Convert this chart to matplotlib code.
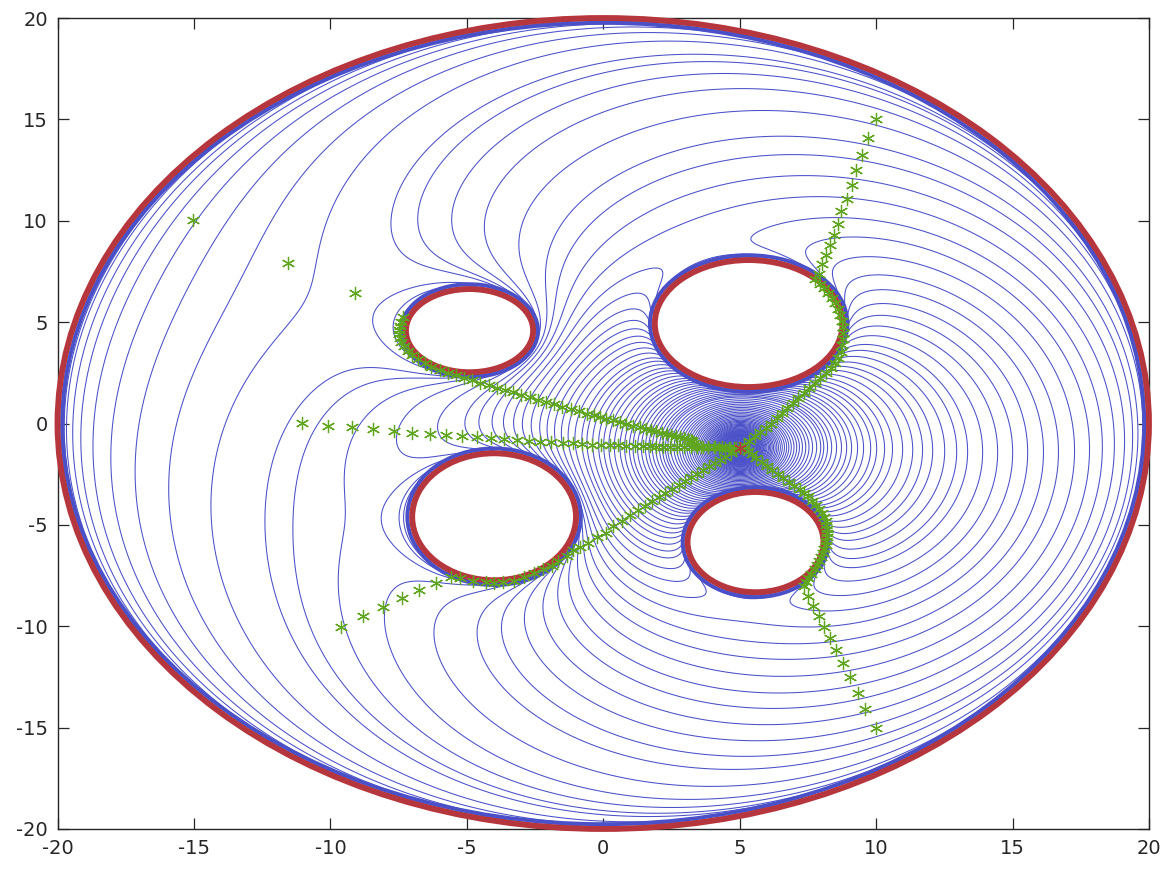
import numpy as np
import matplotlib
matplotlib.use("Agg")
import matplotlib.pyplot as plt
from matplotlib.patches import Ellipse

plt.rcParams["axes.unicode_minus"] = False

goal = (5.0, -1.2)
outer_radius = 20.0
# obstacles
obs_x = [-4.9, 5.33, -4.0, 5.58]
obs_y = [4.58, 4.93, -4.6, -5.85]
obs_rx = [2.33, 3.44, 3.0, 2.49]
obs_ry = [2.05, 3.13, 3.13, 2.47]

kappa = 7

# where the contours cross the row through the goal, right of it
ring_x = [5.12, 5.15, 5.18, 5.21, 5.24, 5.27, 5.3, 5.33, 5.36, 5.39, 5.42, 5.45, 5.48, 5.51, 5.54, 5.57,
          5.6, 5.62, 5.65, 5.67, 5.7, 5.73, 5.76, 5.79, 5.82, 5.85, 5.88, 5.92, 5.96, 6.0, 6.05, 6.09, 6.14, 6.19,
          6.24, 6.3, 6.36, 6.42, 6.49, 6.56, 6.64, 6.72, 6.8, 6.89, 6.99, 7.09, 7.19, 7.3, 7.42, 7.54, 7.67, 7.82,
          7.97, 8.08, 8.22, 8.37, 8.55, 8.73, 8.92, 9.1, 9.32, 9.54, 9.8, 10.02, 10.31, 10.6, 10.97, 11.34, 11.7,
          12.07, 12.51, 12.95, 13.35, 13.9, 14.45, 15.0, 15.55, 16.13, 16.68, 17.27, 17.82, 18.29, 18.73, 19.1,
          19.39, 19.58, 19.76]
# same row, left of the goal, the outer contours
ring_left_x = [-11.96, -14.12, -15.81, -17.12, -18.04, -18.7, -19.14, -19.43, -19.65, -19.73, -19.8, -19.85, -19.9]
# column x = 0, above the obstacles
ring_top_y = [15.36, 16.45, 17.29]

path_a_x = [10.0, 9.72, 9.5, 9.28, 9.1, 8.92, 8.73, 8.59, 8.44, 8.3, 8.15, 8.0, 7.9, 7.75, 7.95, 8.1, 8.25, 8.38, 8.5,
            8.6, 8.68, 8.74, 8.78, 8.8, 8.8, 8.76, 8.7, 8.6, 8.48, 8.33, 8.15, 7.95, 7.75, 7.55, 7.35, 7.15, 6.95,
            6.75, 6.55, 6.35, 6.15, 5.95, 5.75, 5.55, 5.35, 5.15]
path_a_y = [15.0, 14.08, 13.24, 12.5, 11.76, 11.07, 10.48, 9.84, 9.3, 8.8, 8.31, 7.87, 7.37, 7.15, 6.9, 6.7, 6.45, 6.2,
            5.95, 5.65, 5.35, 5.05, 4.75, 4.45, 4.15, 3.85, 3.55, 3.25, 3.0, 2.75, 2.5, 2.25, 2.0, 1.75, 1.5, 1.25, 1.0,
            0.75, 0.5, 0.25, 0.0, -0.2, -0.4, -0.6, -0.85, -1.05]

path_b_x = [-15.04, -11.56, -9.1, -7.34, -7.4, -7.45, -7.5, -7.5, -7.45, -7.4, -7.3, -7.15, -7.0, -6.8, -6.55, -6.3,
            -6.0, -5.7, -5.4, -5.1, -4.8, -4.5, -4.2, -3.9, -3.6, -3.3, -3.0, -2.7, -2.4, -2.1, -1.8, -1.5, -1.2, -0.9,
            -0.6, -0.35, -0.13, 0.1, 0.35, 0.6, 0.85, 1.1, 1.35, 1.55, 1.75, 1.95, 2.15, 2.35, 2.5, 2.65, 2.8, 2.95,
            3.1, 3.2, 3.27, 3.32, 3.4, 3.6, 3.85, 4.1, 4.35, 4.6, 4.8]
path_b_y = [10.04, 7.92, 6.44, 5.25, 5.0, 4.8, 4.6, 4.4, 4.2, 4.0, 3.8, 3.6, 3.4, 3.2, 3.0, 2.8, 2.65, 2.5, 2.4, 2.25,
            2.15, 2.0, 1.9, 1.75, 1.65, 1.53, 1.42, 1.3, 1.18, 1.07, 0.95, 0.83, 0.72, 0.6, 0.48, 0.4, 0.32, 0.24, 0.15,
            0.07, -0.02, -0.1, -0.18, -0.25, -0.32, -0.38, -0.45, -0.52, -0.57, -0.62, -0.67, -0.72, -0.77, -0.8,
            -0.84, -0.95, -1.08, -1.14, -1.16, -1.18, -1.18, -1.19, -1.2]

path_c_x = [-11.04, -10.09, -9.2, -8.44, -7.67, -7.01, -6.35, -5.77, -5.18, -4.63, -4.12, -3.64, -3.17, -2.73, -2.33,
            -1.92, -1.49, -1.12, -0.79, -0.42, -0.08, 0.25, 0.55, 0.85, 1.15, 1.45, 1.7, 1.95, 2.2, 2.45, 2.7, 2.95,
            3.2, 3.45, 3.65, 3.85, 4.05, 4.25, 4.45, 4.65, 4.85]
path_c_y = [0.02, -0.12, -0.17, -0.27, -0.37, -0.47, -0.52, -0.57, -0.62, -0.67, -0.72, -0.77, -0.81, -0.86, -0.91,
            -0.91, -0.96, -0.96, -1.01, -1.06, -1.06, -1.08, -1.08, -1.1, -1.1, -1.12, -1.12, -1.14, -1.14, -1.15,
            -1.15, -1.16, -1.16, -1.17, -1.17, -1.18, -1.18, -1.19, -1.19, -1.2, -1.2]

path_d_x = [-9.62, -8.81, -8.07, -7.38, -6.75, -6.13, -5.58, -5.25, -4.78, -4.3, -4.01, -3.68, -3.28, -2.9, -2.55,
            -2.2, -1.88, -1.66, -1.34, -1.12, -0.86, -0.57, -0.24, 0.09, 0.34, 0.67, 0.97, 1.26, 1.52, 1.78, 2.03, 2.28,
            2.53, 2.78, 3.0, 3.22, 3.44, 3.66, 3.88, 4.08, 4.28, 4.48, 4.68, 4.85]
path_d_y = [-10.04, -9.49, -9.05, -8.6, -8.21, -7.87, -7.57, -7.62, -7.77, -7.82, -7.87, -7.82, -7.77, -7.57, -7.37,
            -7.18, -7.03, -6.78, -6.53, -6.24, -6.09, -5.89, -5.6, -5.4, -5.06, -4.81, -4.51, -4.27, -4.05, -3.84,
            -3.63, -3.43, -3.22, -3.02, -2.84, -2.66, -2.48, -2.3, -2.12, -1.95, -1.79, -1.63, -1.46, -1.32]

path_e_x = [10.0, 9.6, 9.32, 9.03, 8.77, 8.52, 8.3, 8.08, 7.9, 7.68, 7.49, 7.35, 7.42, 7.5, 7.62, 7.75, 7.83, 7.9, 7.98,
            8.05, 8.1, 8.15, 8.18, 8.2, 8.2, 8.2, 8.18, 8.15, 8.08, 8.0, 7.9, 7.8, 7.65, 7.5, 7.35, 7.2, 7.0, 6.8, 6.6,
            6.4, 6.2, 6.0, 5.8, 5.6, 5.45, 5.3, 5.15]
path_e_y = [-15.0, -14.08, -13.29, -12.5, -11.81, -11.17, -10.58, -10.04, -9.49, -9.0, -8.5, -8.0, -7.8, -7.6, -7.4,
            -7.2, -7.0, -6.8, -6.6, -6.4, -6.2, -6.0, -5.8, -5.6, -5.4, -5.2, -5.0, -4.8, -4.6, -4.4, -4.2, -4.0, -3.8,
            -3.6, -3.42, -3.25, -3.07, -2.9, -2.7, -2.5, -2.3, -2.1, -1.9, -1.7, -1.52, -1.38, -1.28]

blue = "#4a50c8"
red = "#b5363c"
green = "#5fa51e"
dark = "#262626"


def nav(X, Y):
    beta = outer_radius**2 - X**2 - Y**2
    free = beta > 0
    for cx, cy, rx, ry in zip(obs_x, obs_y, obs_rx, obs_ry):
        b = ((X - cx) / rx) ** 2 + ((Y - cy) / ry) ** 2 - 1
        free = free & (b > 0)
        beta = beta * b * rx * ry
    d2 = (X - goal[0]) ** 2 + (Y - goal[1]) ** 2
    return d2 / (d2**kappa + np.where(free, beta, np.nan)) ** (1 / kappa)


xs = np.linspace(-20, 20, 2400)
ys = np.linspace(-20, 20, 2400)
X, Y = np.meshgrid(xs, ys)
Z = nav(X, Y)

ring = np.array(ring_x)
levels = nav(ring, np.full(ring.shape, goal[1]))
ring_top = np.array(ring_top_y)
levels_top = nav(np.zeros(ring_top.shape), ring_top)
levels_top = levels_top[levels_top > levels.max()]
ring_left = np.array(ring_left_x)
levels_left = nav(ring_left, np.full(ring_left.shape, goal[1]))
levels = np.unique(np.concatenate([levels, levels_top, levels_left]))

fig = plt.figure(figsize=(11.67, 8.75), dpi=100)
ax = fig.add_axes([57.5 / 1167, 1 - 829 / 875, (1149 - 57.5) / 1167, (829 - 18) / 875])

ax.contour(X, Y, Z, levels=levels, colors=blue, linewidths=0.75)

# the contours pile up against every wall: a solid blue rim just off the red line
ax.add_patch(Ellipse((0, 0), 2 * (outer_radius - 0.18), 2 * (outer_radius - 0.24), fill=False, ec=blue, lw=2.8, zorder=2))
ax.add_patch(Ellipse((0, 0), 2 * outer_radius, 2 * outer_radius, fill=False, ec=red, lw=4.2, clip_on=False, zorder=3))
for cx, cy, rx, ry in zip(obs_x, obs_y, obs_rx, obs_ry):
    ax.add_patch(Ellipse((cx, cy), 2 * (rx + 0.18), 2 * (ry + 0.24), fill=False, ec=blue, lw=2.8, zorder=2))
    ax.add_patch(Ellipse((cx, cy), 2 * rx, 2 * ry, fill=False, ec=red, lw=4.2, zorder=3))

ax.plot(goal[0], goal[1], ls="none", marker=(6, 2, 0), ms=9, mec=red, mew=0.9, zorder=5)
for px, py in [(path_a_x, path_a_y), (path_b_x, path_b_y), (path_c_x, path_c_y), (path_d_x, path_d_y), (path_e_x, path_e_y)]:
    ax.plot(px, py, ls="none", marker=(6, 2, 0), ms=9.5, mec=green, mew=0.9, zorder=4)

ax.set_xlim(-20, 20)
ax.set_ylim(-20, 20)
ax.set_xticks(np.arange(-20, 21, 5))
ax.set_yticks(np.arange(-20, 21, 5))
ax.tick_params(direction="in", length=8, width=0.9, labelsize=14, colors=dark, top=True, right=True, pad=7)
for s in ax.spines.values():
    s.set_linewidth(1.0)
    s.set_color(dark)

fig.savefig("out.png", dpi=100)
